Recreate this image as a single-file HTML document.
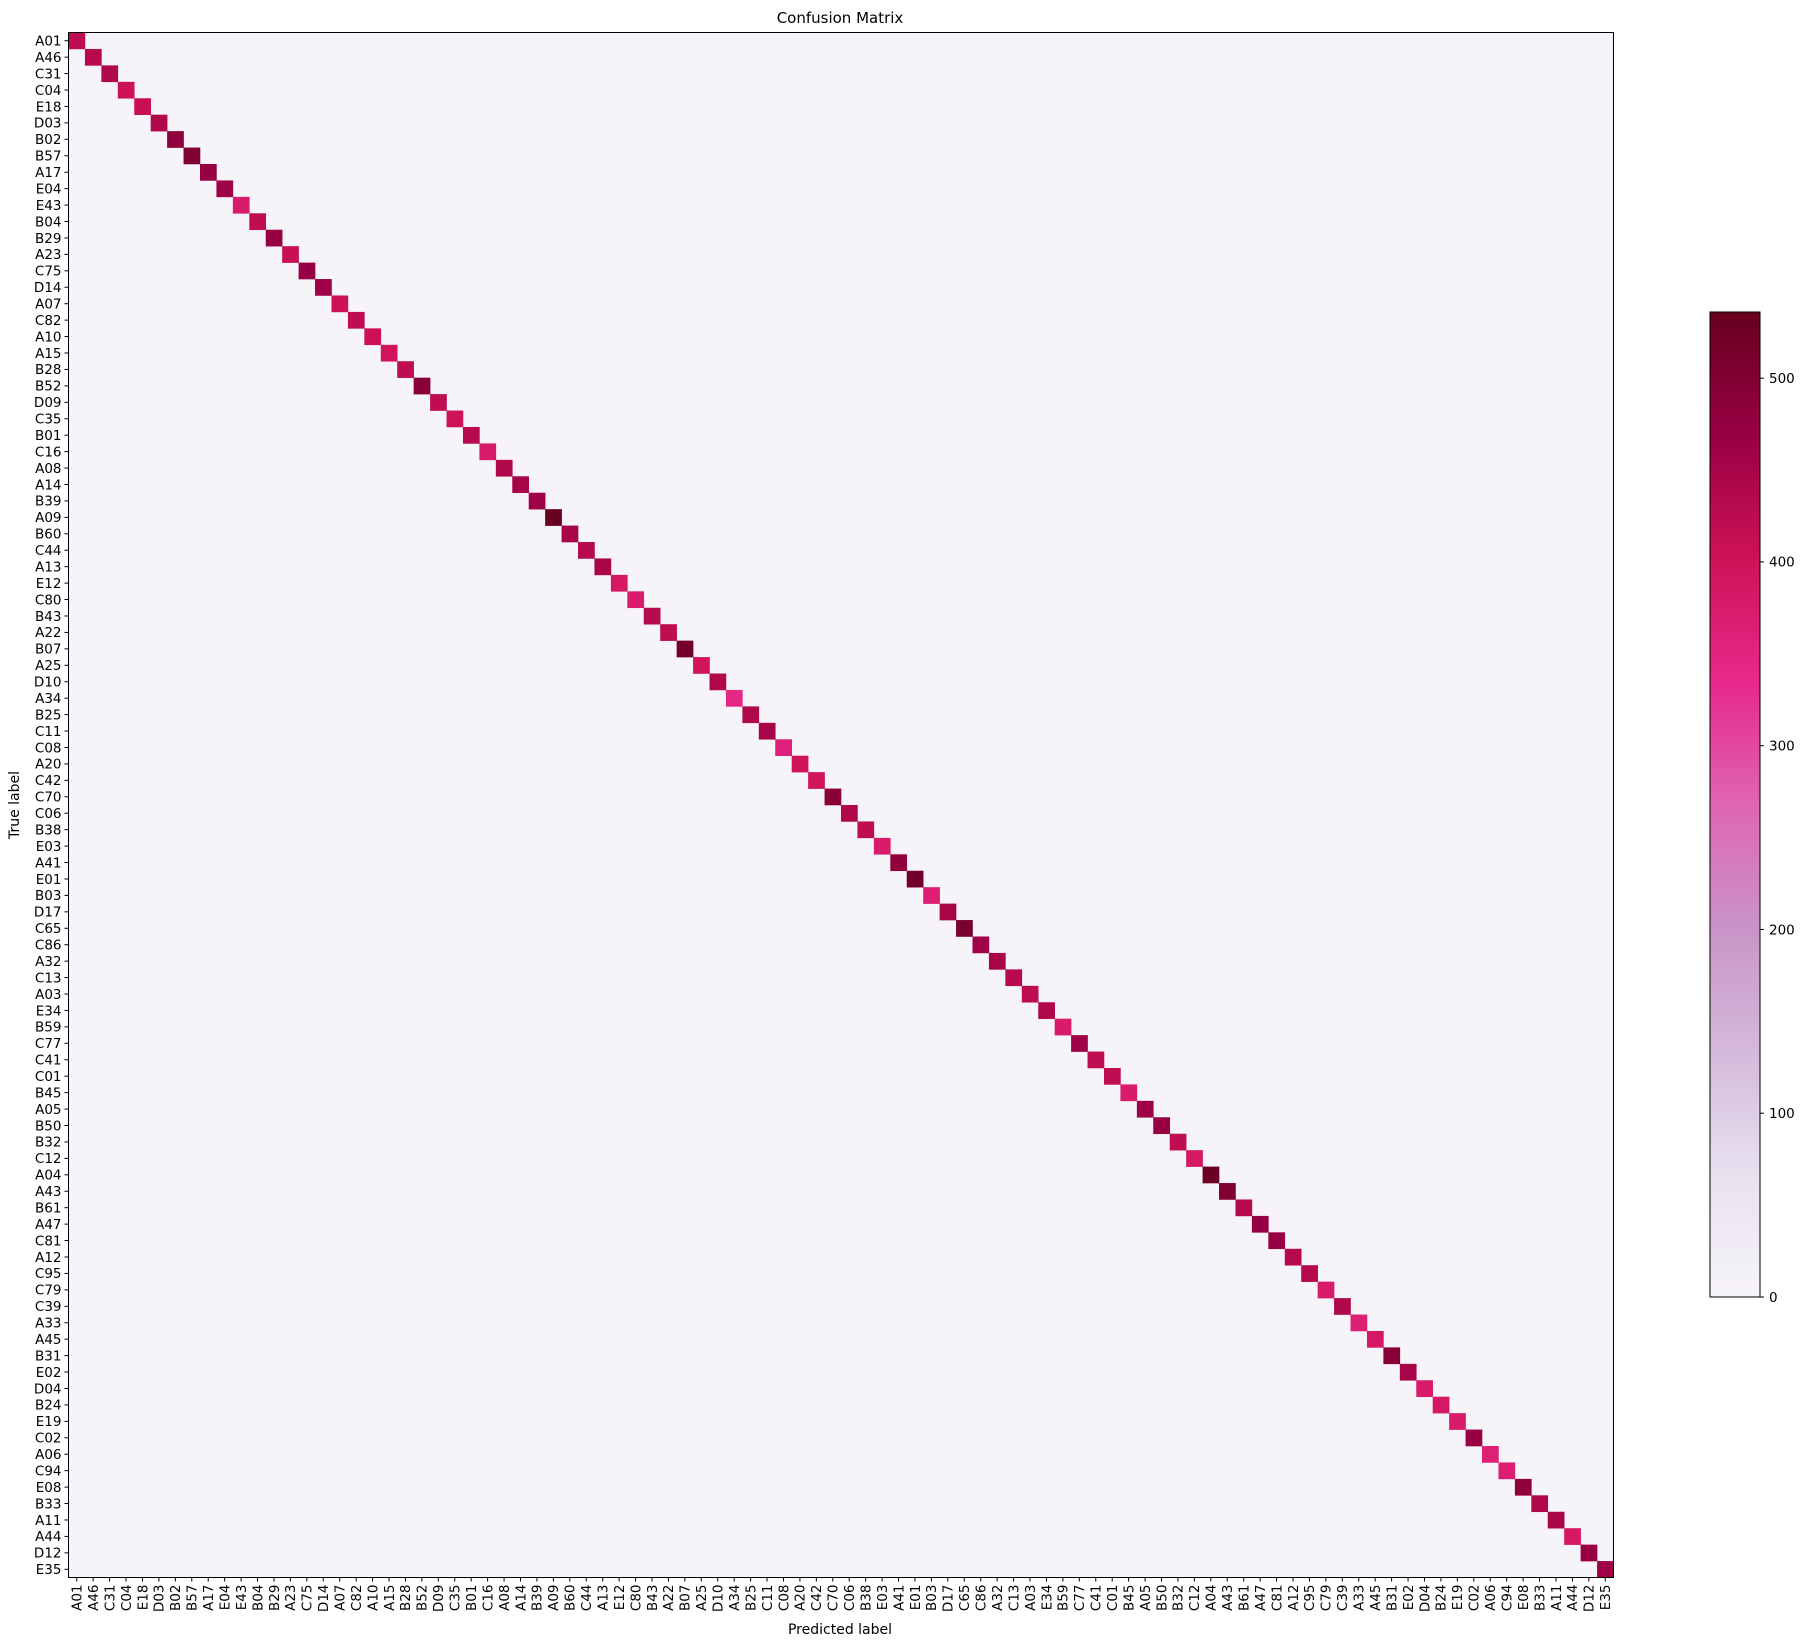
<!DOCTYPE html>
<html><head><meta charset="utf-8"><style>
html,body{margin:0;padding:0;background:#fff;}
svg{display:block;font-family:"DejaVu Sans","Liberation Sans",sans-serif;}
</style></head><body>
<svg id="chart" width="1805" height="1645" viewBox="0 0 1805 1645">
<defs>
<linearGradient id="cbgrad" x1="0" y1="1" x2="0" y2="0">
<stop offset="0" stop-color="#f7f4f9"/><stop offset="0.125" stop-color="#e7e1ef"/><stop offset="0.25" stop-color="#d4b9da"/><stop offset="0.375" stop-color="#c994c7"/><stop offset="0.5" stop-color="#df65b0"/><stop offset="0.625" stop-color="#e7298a"/><stop offset="0.75" stop-color="#ce1256"/><stop offset="0.875" stop-color="#980043"/><stop offset="1" stop-color="#67001f"/>
</linearGradient>
</defs>
<text x="840" y="23" font-size="15" text-anchor="middle">Confusion Matrix</text>
<g id="cells"></g>
<rect x="68.5" y="32.5" width="1545" height="1545" fill="none" stroke="#000" stroke-width="1"/>
<g id="yticks"></g><g id="xticks"></g>
<text transform="translate(19,805) rotate(-90)" font-size="14" text-anchor="middle">True label</text>
<text x="840" y="1634" font-size="14" text-anchor="middle">Predicted label</text>
<rect x="1710" y="312" width="50" height="985" fill="url(#cbgrad)" stroke="#000" stroke-width="1"/>
<g id="cbticks"></g>
</svg>
<script>
const labels = ["A01","A46","C31","C04","E18","D03","B02","B57","A17","E04","E43","B04","B29","A23","C75","D14","A07","C82","A10","A15","B28","B52","D09","C35","B01","C16","A08","A14","B39","A09","B60","C44","A13","E12","C80","B43","A22","B07","A25","D10","A34","B25","C11","C08","A20","C42","C70","C06","B38","E03","A41","E01","B03","D17","C65","C86","A32","C13","A03","E34","B59","C77","C41","C01","B45","A05","B50","B32","C12","A04","A43","B61","A47","C81","A12","C95","C79","C39","A33","A45","B31","E02","D04","B24","E19","C02","A06","C94","E08","B33","A11","A44","D12","E35"];
const diagValues = [420,430,440,405,410,440,480,500,470,460,375,420,470,410,470,460,405,420,405,395,420,490,420,400,430,375,440,450,460,535,450,430,450,385,375,430,420,520,395,440,340,440,450,360,400,395,490,440,420,375,480,520,365,450,510,460,450,430,420,440,375,460,420,420,375,460,470,420,385,530,500,430,470,470,430,430,375,440,365,385,490,450,375,385,375,470,360,365,480,440,450,385,470,460];
const offRows = [21, 80];
const offCols = [9, 69];
const offValues = [4, 4];
const cbTicks = [0,100,200,300,400,500];
const vmax = 536;

const NS="http://www.w3.org/2000/svg";
const X0=68.5,Y0=32.5,SIZE=1545,n=labels.length,cw=SIZE/n;
const xPos=i=>X0+i*cw, yPos=i=>Y0+i*cw;
const CB_B=1297,CB_H=985;
const cbY=v=>CB_B-v/vmax*CB_H;
const stops=["#f7f4f9","#e7e1ef","#d4b9da","#c994c7","#df65b0","#e7298a","#ce1256","#980043","#67001f"].map(h=>[1,3,5].map(k=>parseInt(h.substr(k,2),16)));
function color(v){let t=Math.max(0,Math.min(1,v/vmax))*8;let i=Math.min(7,Math.floor(t));let f=t-i;const c=stops[i].map((a,k)=>Math.round(a+(stops[i+1][k]-a)*f));return `rgb(${c.join(',')})`;}
function mk(tag,attrs,parent){const e=document.createElementNS(NS,tag);for(const k in attrs)e.setAttribute(k,attrs[k]);parent.appendChild(e);return e;}
const cells=document.getElementById('cells');
const bg=mk('rect',{x:X0,y:Y0,width:SIZE,height:SIZE,fill:color(0)},cells);


offValues.forEach((v,k)=>{
  const r=mk('rect',{x:xPos(offCols[k]),y:yPos(offRows[k]),width:cw+0.3,height:cw+0.3,fill:color(v)},cells);
  
  
});
diagValues.forEach((v,i)=>{
  const r=mk('rect',{x:xPos(i),y:yPos(i),width:cw+0.3,height:cw+0.3,fill:color(v)},cells);
  
  
});
const yt=document.getElementById('yticks'),xt=document.getElementById('xticks');
labels.forEach((l,i)=>{
  const c=yPos(i)+cw/2;
  mk('line',{x1:X0-4,x2:X0,y1:c,y2:c,stroke:'#000','stroke-width':1},yt);
  const t=mk('text',{x:X0-7,y:c+4.8,'font-size':13.5,'text-anchor':'end'},yt);
  t.textContent=l;
  
  
  const cx=xPos(i)+cw/2;
  mk('line',{x1:cx,x2:cx,y1:Y0+SIZE,y2:Y0+SIZE+4,stroke:'#000','stroke-width':1},xt);
  const u=mk('text',{transform:`translate(${cx+4.8},${Y0+SIZE+7}) rotate(-90)`,'font-size':13.5,'text-anchor':'end'},xt);
  u.textContent=l;
  
  
});
const cbt=document.getElementById('cbticks');
cbTicks.forEach(v=>{
  const y=cbY(v);
  mk('line',{x1:1760,x2:1764,y1:y,y2:y,stroke:'#000','stroke-width':1},cbt);
  const t=mk('text',{x:1769,y:y+4.8,'font-size':13.5},cbt);
  t.textContent=v;
  
  
});
</script>
</body></html>
